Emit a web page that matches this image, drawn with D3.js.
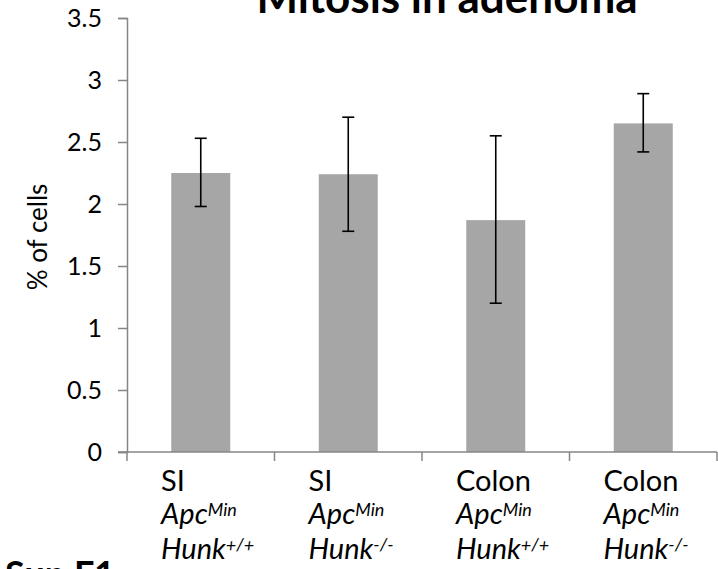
<!DOCTYPE html>
<html>
<head>
<meta charset="utf-8">
<script src="https://cdn.jsdelivr.net/npm/d3@7"></script>
<style>
  body { margin: 0; background: #fff; }
  text { font-family: Lato, "Open Sans", sans-serif; }
</style>
</head>
<body>
<div id="chart"></div>
<script>
"use strict";

// data
const tissues = ["SI", "SI", "Colon", "Colon"];
const hunkSup = ["+/+", "-/-", "+/+", "-/-"];
const means = [2.25, 2.24, 1.87, 2.65];
const errLow = [1.98, 1.78, 1.20, 2.42];
const errHigh = [2.53, 2.70, 2.55, 2.89];
const yTicks = [0, 0.5, 1, 1.5, 2, 2.5, 3, 3.5];

const W = 718, H = 569;

const svg = d3.select("#chart").append("svg")
  .attr("width", W)
  .attr("height", H);

const x = d3.scaleBand()
  .domain(d3.range(tissues.length))
  .range([127, 717])
  .paddingInner(0.6)
  .paddingOuter(0.3);

const y = d3.scaleLinear()
  .domain([0, 3.5])
  .range([452, 18]);

// Title (cut by the top edge in the reference)
svg.append("text")
  .attr("x", 447)
  .attr("y", 13)
  .attr("text-anchor", "middle")
  .attr("font-size", 44)
  .attr("font-weight", "bold")
  .text("Mitosis in adenoma");

// Bars
svg.selectAll("rect.bar")
  .data(means)
  .join("rect")
  .attr("class", "bar")
  .attr("x", (d, i) => x(i))
  .attr("y", d => y(d))
  .attr("width", x.bandwidth())
  .attr("height", d => y(0) - y(d))
  .attr("fill", "#a6a6a6");

// Error bars
const eb = svg.append("g").attr("stroke", "black").attr("stroke-width", 1.6);
means.forEach((m, i) => {
  const cx = x(i) + x.bandwidth() / 2;
  eb.append("line")
    .attr("x1", cx).attr("x2", cx)
    .attr("y1", y(errLow[i])).attr("y2", y(errHigh[i]));
  eb.append("line")
    .attr("x1", cx - 6).attr("x2", cx + 6)
    .attr("y1", y(errLow[i])).attr("y2", y(errLow[i]));
  eb.append("line")
    .attr("x1", cx - 6).attr("x2", cx + 6)
    .attr("y1", y(errHigh[i])).attr("y2", y(errHigh[i]));
});

// Y axis
const yAxis = svg.append("g")
  .attr("transform", "translate(127,0)")
  .call(d3.axisLeft(y).tickValues(yTicks).tickSize(9).tickPadding(16)
    .tickFormat(d3.format("")));
yAxis.select(".domain").attr("stroke", "#868686").attr("stroke-width", 1.5);
yAxis.selectAll(".tick line").attr("stroke", "#868686").attr("stroke-width", 1.5);
yAxis.selectAll(".tick text")
  .attr("font-size", 25)
  .attr("fill", "#000")
  .attr("font-family", "Lato, sans-serif");

// X axis line with category ticks at band boundaries
const xAxis = svg.append("g").attr("stroke", "#868686").attr("stroke-width", 1.5);
xAxis.append("line")
  .attr("x1", 118).attr("x2", 717)
  .attr("y1", y(0)).attr("y2", y(0));
const step = x.step();
d3.range(tissues.length + 1).forEach(i => {
  const tx = 127 + i * step;
  xAxis.append("line")
    .attr("x1", tx).attr("x2", tx)
    .attr("y1", y(0)).attr("y2", y(0) + 9);
});

// Category labels (three lines each)
tissues.forEach((t, i) => {
  const lx = 127 + i * step + 34;
  const g = svg.append("g").attr("font-size", 29);
  g.append("text").attr("x", lx).attr("y", 491).text(t);
  const apc = g.append("text").attr("x", lx).attr("y", 524)
    .attr("font-style", "italic");
  apc.append("tspan").text("Apc");
  apc.append("tspan").attr("dy", -8).attr("font-size", 18).text("Min");
  const hunk = g.append("text").attr("x", lx).attr("y", 559)
    .attr("font-style", "italic");
  hunk.append("tspan").text("Hunk");
  hunk.append("tspan").attr("dy", -8).attr("font-size", 18).text(hunkSup[i]);
});

// Y axis title
svg.append("text")
  .attr("transform", "translate(47,237) rotate(-90)")
  .attr("text-anchor", "middle")
  .attr("font-size", 26)
  .text("% of cells");

// Figure tag cut off at the bottom edge
svg.append("text")
  .attr("x", 5)
  .attr("y", 587)
  .attr("font-size", 36)
  .attr("font-weight", "bold")
  .text("Sup F1");
</script>
</body>
</html>
